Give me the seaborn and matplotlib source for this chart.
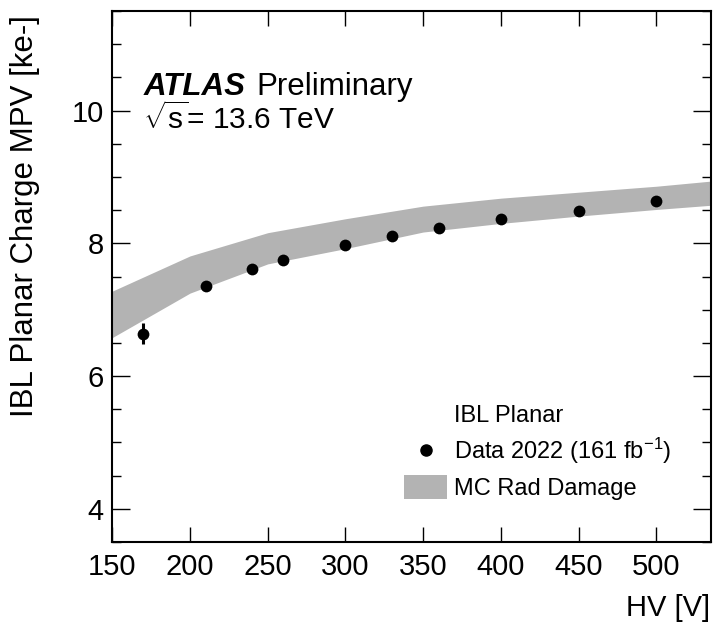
import numpy as np
import pandas as pd
import matplotlib
matplotlib.use("Agg")
import matplotlib.pyplot as plt
import seaborn as sns
from matplotlib.lines import Line2D
from matplotlib.patches import Patch
from matplotlib.ticker import MultipleLocator

# ---- data ----
hv_data = [170, 210, 240, 260, 300, 330, 360, 400, 450, 500]
mpv_data = [6.64, 7.36, 7.62, 7.75, 7.97, 8.11, 8.23, 8.36, 8.49, 8.63]
mpv_err = [0.16, 0.03, 0.03, 0.03, 0.03, 0.03, 0.03, 0.03, 0.03, 0.03]

hv_mc = [150, 200, 250, 300, 350, 400, 450, 500, 550]
mc_low = [6.58, 7.25, 7.69, 7.92, 8.17, 8.30, 8.41, 8.51, 8.60]
mc_high = [7.28, 7.81, 8.16, 8.37, 8.56, 8.68, 8.77, 8.86, 8.97]

x_ticks = [150, 200, 250, 300, 350, 400, 450, 500]
y_ticks = [4, 6, 8, 10]

df = pd.DataFrame({"HV": hv_data, "MPV": mpv_data, "err": mpv_err})

sns.set_theme(style="ticks")
FONT = "Liberation Sans"
plt.rcParams["font.family"] = [FONT, "DejaVu Sans"]
plt.rcParams["mathtext.fontset"] = "custom"
plt.rcParams["mathtext.rm"] = FONT
plt.rcParams["mathtext.it"] = FONT + ":italic"
plt.rcParams["mathtext.bf"] = FONT + ":bold"
for k in ["text.color", "axes.labelcolor", "xtick.color", "ytick.color", "axes.edgecolor"]:
    plt.rcParams[k] = "black"

fig = plt.figure(figsize=(7.14, 6.32), dpi=100)
ax = fig.add_axes([0.1573, 0.1424, 0.9954 - 0.1573, 0.9826 - 0.1424])

band_color = "#b3b3b3"
ax.fill_between(hv_mc, mc_low, mc_high, color=band_color, linewidth=0, zorder=1)

ax.errorbar(df["HV"], df["MPV"], yerr=df["err"], fmt="none", ecolor="black",
            elinewidth=2.2, capsize=0, zorder=2)
sns.scatterplot(data=df, x="HV", y="MPV", ax=ax, color="black", s=72,
                edgecolor="black", linewidth=0, zorder=3, legend=False)

ax.set_xlim(150, 535)
ax.set_ylim(3.5, 11.5)
ax.set_xticks(x_ticks)
ax.set_yticks(y_ticks)
ax.yaxis.set_minor_locator(MultipleLocator(0.5))

ax.tick_params(axis="both", which="both", direction="in", top=True, right=True,
               labelsize=21, colors="black")
ax.tick_params(axis="x", which="major", length=11, width=1.0, pad=8)
ax.tick_params(axis="y", which="major", length=13, width=1.0, pad=6)
ax.tick_params(axis="y", which="minor", length=6.3, width=1.0)
for sp in ax.spines.values():
    sp.set_linewidth(1.5)
    sp.set_color("black")

ax.set_xlabel("")
ax.set_ylabel("")
fig.text(0.014, 0.976, "IBL Planar Charge MPV [ke-]", rotation=90, ha="left",
         va="top", fontsize=22.5)
fig.text(0.995, 0.038, "HV [V]", ha="right", va="center", fontsize=21)

# ATLAS label
ax.text(0.052, 0.8426, "ATLAS", transform=ax.transAxes, fontsize=22.5,
        fontweight="bold", fontstyle="italic", ha="left", va="baseline")
ax.text(0.2415, 0.8426, "Preliminary", transform=ax.transAxes, fontsize=22.5,
        ha="left", va="baseline")
ax.text(0.052, 0.7785, r"$\sqrt{\mathrm{s}}$= 13.6 TeV", transform=ax.transAxes,
        fontsize=21.5, ha="left", va="baseline")

handles = [
    Line2D([], [], linestyle="none", marker=None),
    Line2D([], [], linestyle="none", marker="o", color="black", markersize=8),
    Patch(facecolor=band_color, edgecolor="none"),
]
labels = ["IBL Planar", "Data 2022 (161 fb$^{-1}$)", "MC Rad Damage"]
leg = ax.legend(handles, labels, loc="lower left", bbox_to_anchor=(0.4875, 0.079),
                frameon=False, fontsize=17, handlelength=1.82, handleheight=1.14,
                handletextpad=0.3, labelspacing=0.38, borderpad=0.0,
                borderaxespad=0.0)

fig.savefig("out.png", dpi=100)
